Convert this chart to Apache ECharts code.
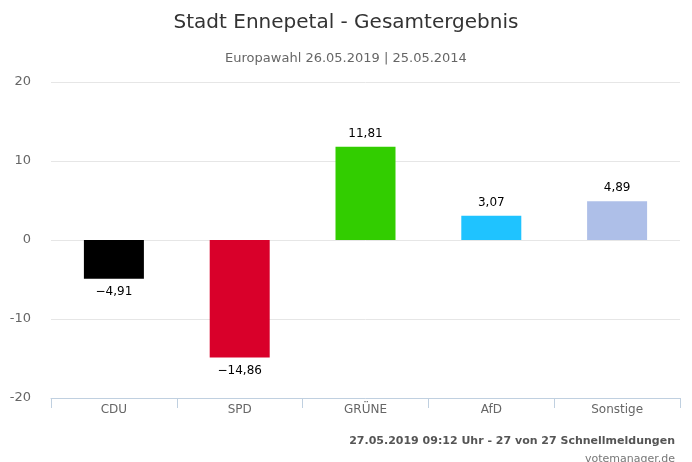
<!DOCTYPE html>
<html>
<head>
<meta charset="utf-8">
<script src="https://cdn.jsdelivr.net/npm/echarts@6/dist/echarts.min.js"></script>
<style>
html, body { margin: 0; padding: 0; background: #fff; }
#chart { width: 692px; height: 462px; }
</style>
</head>
<body>
<div id="chart"></div>
<script>
var parties = ['CDU', 'SPD', 'GRÜNE', 'AfD', 'Sonstige'];
var changes = [-4.91, -14.86, 11.81, 3.07, 4.89];
var colors = ['#000000', '#d9002a', '#32cd00', '#1fc3ff', '#aebfe8'];
var yTicks = [-20, -10, 0, 10, 20];

var font = 'DejaVu Sans';
var chart = echarts.init(document.getElementById('chart'));
chart.setOption({
    animation: false,
    textStyle: { fontFamily: font },
    title: [
        { text: 'Stadt Ennepetal - Gesamtergebnis', left: 'center', top: 8,
          textStyle: { fontSize: 20, fontWeight: 'normal', color: '#333333', fontFamily: font } },
        { text: 'Europawahl 26.05.2019 | 25.05.2014', left: 'center', top: 47,
          textStyle: { fontSize: 13, fontWeight: 'normal', color: '#666666', fontFamily: font } },
        { text: '27.05.2019 09:12 Uhr - 27 von 27 Schnellmeldungen', right: 12, top: 431,
          textStyle: { fontSize: 11, fontWeight: 'bold', color: '#555555', fontFamily: font } },
        { text: 'votemanager.de', right: 12, top: 449,
          textStyle: { fontSize: 11, fontWeight: 'normal', color: '#777777', fontFamily: font } }
    ],
    grid: { left: 51, right: 12, top: 82, bottom: 64 },
    xAxis: {
        type: 'category',
        data: parties,
        position: 'bottom',
        axisLine: { onZero: false, lineStyle: { color: '#c0d0e0', width: 1 } },
        axisTick: { show: true, length: 10, alignWithLabel: false, lineStyle: { color: '#c0d0e0' } },
        axisLabel: { color: '#666666', fontSize: 12, margin: 6 },
        splitLine: { show: false }
    },
    yAxis: {
        type: 'value',
        min: yTicks[0],
        max: yTicks[yTicks.length - 1],
        interval: 10,
        axisLine: { show: false },
        axisTick: { show: false },
        axisLabel: { color: '#666666', fontSize: 13, margin: 20 },
        splitLine: { lineStyle: { color: '#e6e6e6', width: 1 } }
    },
    series: [{
        type: 'bar',
        barWidth: 60,
        data: changes.map(function (v, i) {
            return { value: v, itemStyle: { color: colors[i] } };
        }),
        label: {
            show: true,
            position: 'outside',
            distance: 7,
            fontSize: 12,
            color: '#000000',
            formatter: function (p) {
                return p.value.toFixed(2).replace('.', ',').replace('-', '−');
            }
        }
    }]
});
</script>
</body>
</html>
